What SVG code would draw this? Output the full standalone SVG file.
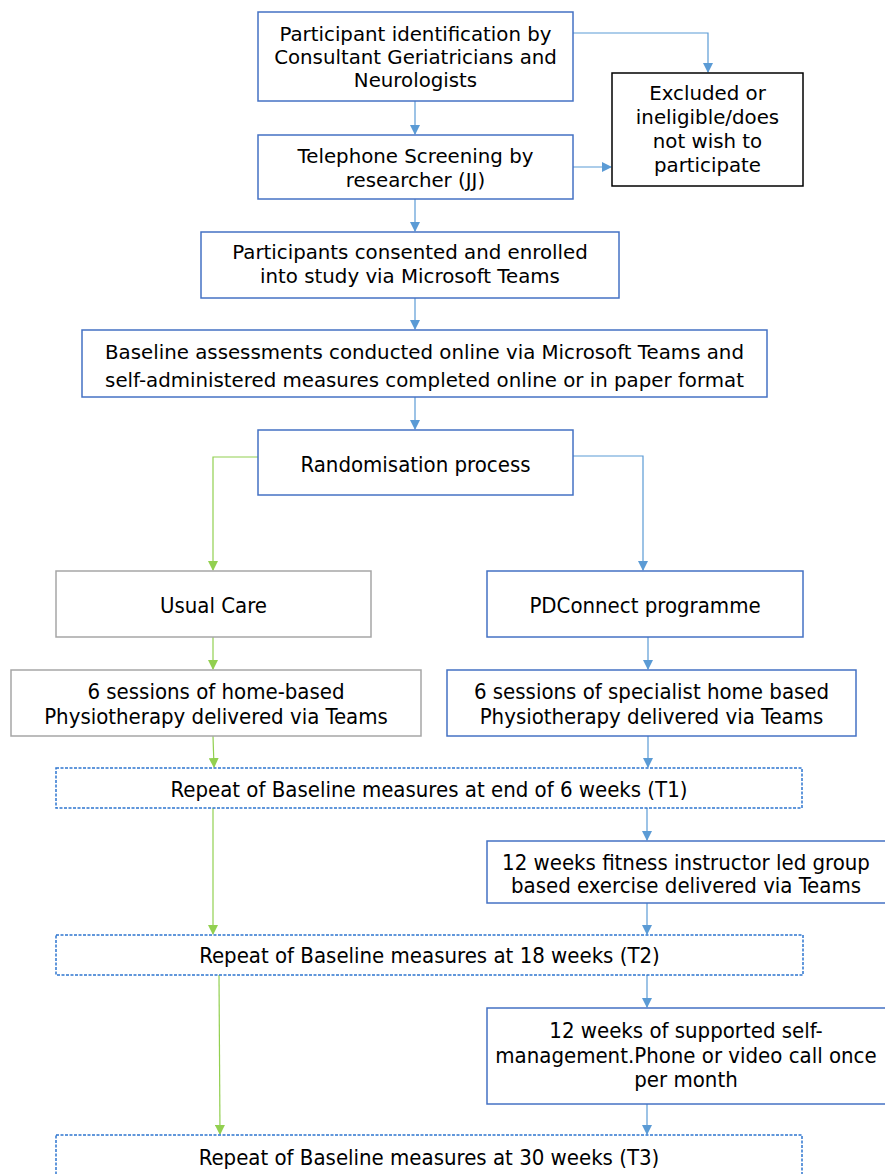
<svg xmlns="http://www.w3.org/2000/svg" width="885" height="1174" viewBox="0 0 885 1174">
<defs>
<style>
.b{fill:#fff;stroke:#4472C4;stroke-width:1.5}
.k{fill:#fff;stroke:#000;stroke-width:1.5}
.g{fill:#fff;stroke:#A6A6A6;stroke-width:1.5}
.d{fill:#fff;stroke:#2E75D0;stroke-width:1.5;stroke-dasharray:3 1.5}
.t{font-family:"DejaVu Sans",Verdana,sans-serif;font-size:19.8px;fill:#000;text-anchor:middle}
.c{font-family:"DejaVu Sans Condensed","DejaVu Sans",sans-serif;font-size:22px;fill:#000;text-anchor:middle}
.lb{fill:none;stroke:#5B9BD5;stroke-width:1.2}
.lg{fill:none;stroke:#92D050;stroke-width:1.2}
</style>
<marker id="ab" markerWidth="10" markerHeight="10" refX="9" refY="5" orient="auto" markerUnits="userSpaceOnUse"><path d="M0,0 L10,5 L0,10 z" fill="#5B9BD5"/></marker>
<marker id="ag" markerWidth="10" markerHeight="10" refX="9" refY="5" orient="auto" markerUnits="userSpaceOnUse"><path d="M0,0 L10,5 L0,10 z" fill="#92D050"/></marker>
</defs>
<g id="connectors">
<path class="lb" d="M415,101 V134" marker-end="url(#ab)"/>
<path class="lb" d="M573,33 H708 V72" marker-end="url(#ab)"/>
<path class="lb" d="M573,167 H611" marker-end="url(#ab)"/>
<path class="lb" d="M415,199 V231" marker-end="url(#ab)"/>
<path class="lb" d="M415,298 V329" marker-end="url(#ab)"/>
<path class="lb" d="M415,397 V429" marker-end="url(#ab)"/>
<path class="lg" d="M258,457 H213 V570" marker-end="url(#ag)"/>
<path class="lb" d="M573,456 H643 V570" marker-end="url(#ab)"/>
<path class="lg" d="M213,637 V669" marker-end="url(#ag)"/>
<path class="lb" d="M648,637 V669" marker-end="url(#ab)"/>
<path class="lg" d="M213,736 L214,767" marker-end="url(#ag)"/>
<path class="lb" d="M648,736 V767" marker-end="url(#ab)"/>
<path class="lb" d="M647,808 V840" marker-end="url(#ab)"/>
<path class="lg" d="M213,808 V934" marker-end="url(#ag)"/>
<path class="lb" d="M647,903 V934" marker-end="url(#ab)"/>
<path class="lg" d="M219,975 L220,1134" marker-end="url(#ag)"/>
<path class="lb" d="M647,975 V1007" marker-end="url(#ab)"/>
<path class="lb" d="M647,1104 V1134" marker-end="url(#ab)"/>
</g>
<g id="n1"><rect class="b" x="258" y="12" width="315" height="89"/>
<text class="t" x="415.5" y="41">Participant identification by</text>
<text class="t" x="415.5" y="64">Consultant Geriatricians and</text>
<text class="t" x="415.5" y="87">Neurologists</text></g>
<g id="n2"><rect class="k" x="612" y="73" width="191" height="113"/>
<text class="t" x="707.5" y="100">Excluded or</text>
<text class="t" x="707.5" y="124">ineligible/does</text>
<text class="t" x="707.5" y="148">not wish to</text>
<text class="t" x="707.5" y="172">participate</text></g>
<g id="n3"><rect class="b" x="258" y="135" width="315" height="64"/>
<text class="t" x="415.5" y="163">Telephone Screening by</text>
<text class="t" x="415.5" y="187">researcher (JJ)</text></g>
<g id="n4"><rect class="b" x="201" y="232" width="418" height="66"/>
<text class="t" x="410" y="259">Participants consented and enrolled</text>
<text class="t" x="410" y="283">into study via Microsoft Teams</text></g>
<g id="n5"><rect class="b" x="82" y="330" width="685" height="67"/>
<text class="t" x="424.5" y="359">Baseline assessments conducted online via Microsoft Teams and</text>
<text class="t" x="424.5" y="387">self-administered measures completed online or in paper format</text></g>
<g id="n6"><rect class="b" x="258" y="430" width="315" height="65"/>
<text class="c" x="415.5" y="472">Randomisation process</text></g>
<g id="n7"><rect class="g" x="56" y="571" width="315" height="66"/>
<text class="c" x="213.5" y="613">Usual Care</text></g>
<g id="n8"><rect class="b" x="487" y="571" width="316" height="66"/>
<text class="c" x="645" y="613">PDConnect programme</text></g>
<g id="n9"><rect class="g" x="11" y="670" width="410" height="66"/>
<text class="c" x="216" y="699">6 sessions of home-based</text>
<text class="c" x="216" y="724">Physiotherapy delivered via Teams</text></g>
<g id="n10"><rect class="b" x="447" y="670" width="409" height="66"/>
<text class="c" x="651.5" y="699">6 sessions of specialist home based</text>
<text class="c" x="651.5" y="724">Physiotherapy delivered via Teams</text></g>
<g id="n11"><rect class="d" x="56" y="768" width="746" height="40"/>
<text class="c" x="429" y="797">Repeat of Baseline measures at end of 6 weeks (T1)</text></g>
<g id="n12"><rect class="b" x="487" y="841" width="410" height="62"/>
<text class="c" x="686" y="870">12 weeks fitness instructor led group</text>
<text class="c" x="686" y="893">based exercise delivered via Teams</text></g>
<g id="n13"><rect class="d" x="56" y="935" width="747" height="40"/>
<text class="c" x="429.5" y="963">Repeat of Baseline measures at 18 weeks (T2)</text></g>
<g id="n14"><rect class="b" x="487" y="1008" width="410" height="96"/>
<text class="c" x="686" y="1038">12 weeks of supported self-</text>
<text class="c" x="686" y="1063">management.Phone or video call once</text>
<text class="c" x="686" y="1087">per month</text></g>
<g id="n15"><rect class="d" x="56" y="1135" width="746" height="50"/>
<text class="c" x="429" y="1165">Repeat of Baseline measures at 30 weeks (T3)</text></g>
</svg>
